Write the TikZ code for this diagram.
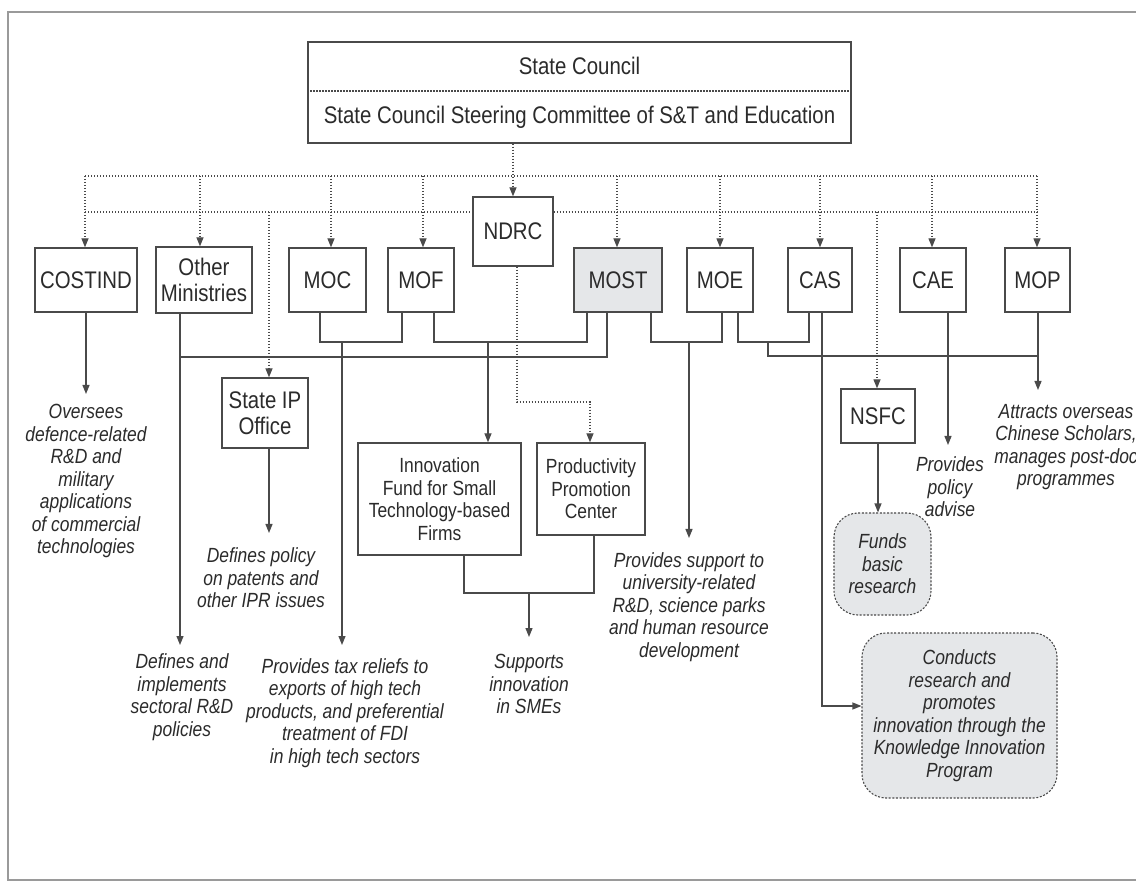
\documentclass[tikz,border=0pt]{standalone}
\usepackage{fontspec}
\setmainfont{Liberation Sans}[FakeStretch=0.85]
\usetikzlibrary{arrows.meta}
\definecolor{ln}{HTML}{4A4A4A}
\definecolor{tx}{HTML}{2B2B2B}
\definecolor{fl}{HTML}{E5E7E9}
\definecolor{fr}{HTML}{9A9A9A}
\begin{document}
\begin{tikzpicture}[x=1pt,y=-1pt,
  box/.style={draw=ln, line width=1.3pt, text=tx, font=\fontsize{24}{26}\selectfont, align=center, inner sep=0pt},
  sbox/.style={box, font=\fontsize{20.5}{22.5}\selectfont},
  note/.style={text=tx, font=\fontsize{20.5}{22.5}\selectfont\itshape, align=center, inner sep=0pt},
  soft/.style={draw=ln, line width=1.1pt, dash pattern=on 2pt off 1.6pt, fill=fl, rounded corners=24pt, text=tx, font=\fontsize{20.5}{22.5}\selectfont\itshape, align=center, inner sep=0pt},
  conn/.style={draw=ln, line width=1.2pt},
  dconn/.style={conn, dash pattern=on 1.4pt off 1.6pt},
  arr/.style={-{Triangle[length=9pt,width=7pt]}}]
\useasboundingbox (0,0) rectangle (1136,882);
\fill[white] (0,0) rectangle (1136,882);
% frame
\draw[fr, line width=1.5pt] (1136,12) -- (8,12) -- (8,880) -- (1136,880);

% State Council box
\node[box, minimum width=543pt, minimum height=101pt] (sc) at (579.5,92.5) {};
\node[text=tx, font=\fontsize{24}{26}\selectfont, inner sep=0pt] (sct) at (579.5,66) {State Council};
\node[text=tx, font=\fontsize{24}{26}\selectfont, inner sep=0pt] (scs) at (579.5,117) {State Council Steering Committee of S\&T and Education};
\draw[dconn] (sc.west |- 0,91) -- (sc.east |- 0,91);

% top row
\node[box, minimum width=102pt, minimum height=64pt] (costind) at (86,280) {COSTIND};
\node[box, minimum width=96pt, minimum height=66pt] (other) at (204,280) {Other\\Ministries};
\node[box, minimum width=77pt, minimum height=64pt] (moc) at (327.5,280) {MOC};
\node[box, minimum width=66pt, minimum height=64pt] (mof) at (421,280) {MOF};
\node[box, minimum width=80pt, minimum height=69pt] (ndrc) at (513,231.5) {NDRC};
\node[box, fill=fl, minimum width=88pt, minimum height=64pt] (most) at (618,280) {MOST};
\node[box, minimum width=66pt, minimum height=64pt] (moe) at (720,280) {MOE};
\node[box, minimum width=64pt, minimum height=64pt] (cas) at (820,280) {CAS};
\node[box, minimum width=66pt, minimum height=64pt] (cae) at (933,280) {CAE};
\node[box, minimum width=65pt, minimum height=64pt] (mop) at (1037.5,280) {MOP};

% second level
\node[box, minimum width=86pt, minimum height=70pt] (sipo) at (265,413) {State IP\\Office};
\node[box, minimum width=74pt, minimum height=54pt] (nsfc) at (878,416) {NSFC};
\node[sbox, minimum width=163pt, minimum height=112pt] (ifund) at (439.5,499) {Innovation\\Fund for Small\\Technology-based\\Firms};
\node[sbox, minimum width=108pt, minimum height=92pt] (ppc) at (591,489) {Productivity\\Promotion\\Center};
\node[soft, minimum width=97pt, minimum height=102pt] (funds) at (882.5,564) {Funds\\basic\\research};
\node[soft, minimum width=195pt, minimum height=165pt] (knip) at (959.5,715.5) {Conducts\\research and\\promotes\\innovation through the\\Knowledge Innovation\\Program};

% notes
\node[note] (n1) at (86,481) {Oversees\\defence-related\\R\&D and\\military\\applications\\of commercial\\technologies};
\node[note] (n2) at (261,578) {Defines policy\\on patents and\\other IPR issues};
\node[note] (n3) at (182,697) {Defines and\\implements\\sectoral R\&D\\policies};
\node[note] (n4) at (345,713) {Provides tax reliefs to\\exports of high tech\\products, and preferential\\treatment of FDI\\in high tech sectors};
\node[note] (n5) at (529,684) {Supports\\innovation\\in SMEs};
\node[note] (n6) at (689,607) {Provides support to\\university-related\\R\&D, science parks\\and human resource\\development};
\node[note] (n7) at (950,487) {Provides\\policy\\advise};
\node[note] (n8) at (1066,447) {Attracts overseas\\Chinese Scholars,\\manages post-doc\\programmes};

% dotted hierarchy
\draw[dconn, arr] (sc.south -| ndrc.north) -- (ndrc.north);
\draw[dconn] (85,176) -- (1037,176);
\draw[dconn] (85,212) -- (ndrc.west |- 0,212);
\draw[dconn] (ndrc.east |- 0,212) -- (1037,212);
\foreach \n/\x in {costind/85, other/200, moc/331, mof/423, most/617, moe/720, cas/820, cae/932, mop/1037}
  \draw[dconn, arr] (\x,176) -- (\x,0 |- \n.north);
\draw[dconn, arr] (269,212) -- (269,0 |- sipo.north);
\draw[dconn, arr] (877,212) -- (877,0 |- nsfc.north);
\draw[dconn, arr] (517,0 |- ndrc.south) -- (517,402) -- (590,402) -- (590,0 |- ppc.north);

% solid connectors
\draw[conn, arr] (costind.south) -- (86,394);
\draw[conn, arr] (180,0 |- other.south) -- (180,645);
\draw[conn] (180,357) -- (607,357) -- (607,0 |- most.south);
\draw[conn] (320,0 |- moc.south) -- (320,342) -- (402,342) -- (402,0 |- mof.south);
\draw[conn, arr] (342,342) -- (342,645);
\draw[conn] (434,0 |- mof.south) -- (434,342) -- (587,342) -- (587,0 |- most.south);
\draw[conn, arr] (488,342) -- (488,0 |- ifund.north);
\draw[conn] (651,0 |- most.south) -- (651,342) -- (722,342) -- (722,0 |- moe.south);
\draw[conn, arr] (689,342) -- (689,538);
\draw[conn] (738,0 |- moe.south) -- (738,342) -- (809,342) -- (809,0 |- cas.south);
\draw[conn] (768,342) -- (768,356) -- (1038,356);
\draw[conn, arr] (1038,0 |- mop.south) -- (1038,390);
\draw[conn, arr] (822,0 |- cas.south) -- (822,706) -- (knip.west |- 0,706);
\draw[conn, arr] (948,0 |- cae.south) -- (948,445);
\draw[conn, arr] (878,0 |- nsfc.south) -- (878,0 |- funds.north);
\draw[conn, arr] (269,0 |- sipo.south) -- (269,533);
\draw[conn] (464,0 |- ifund.south) -- (464,593) -- (594,593) -- (594,0 |- ppc.south);
\draw[conn, arr] (529,593) -- (529,637);
\end{tikzpicture}
\end{document}
